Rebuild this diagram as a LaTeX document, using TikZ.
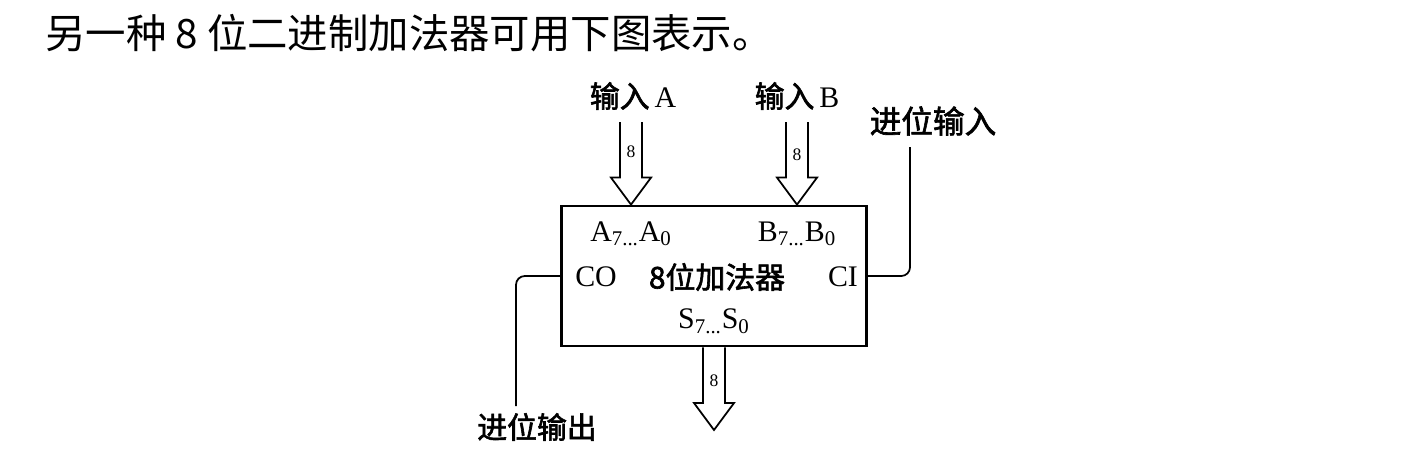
\documentclass[tikz,border=0pt]{standalone}
\usepackage{fontspec}
\setmainfont{Liberation Serif}
\newfontfamily\cjk{Noto Sans CJK SC}
\newfontfamily\cjkb[FakeBold=2]{Noto Sans CJK SC}
\usepackage{tikz}
\usetikzlibrary{positioning}
\usetikzlibrary{calc}
% hollow bus arrow from the top of its shaft down to its tip
\newcommand{\busarrow}[2]{%
  \draw[bus] ($(#1)+(-11,0)$) -- ($(#2)+(-11,-27)$) -- ($(#2)+(-20,-27)$) -- (#2)
    -- ($(#2)+(20,-27)$) -- ($(#2)+(11,-27)$) -- ($(#1)+(11,0)$);}

\begin{document}
\begin{tikzpicture}[x=0.02cm, y=-0.02cm]
    % Styles:
    \tikzset{wire/.style={line width=1pt, rounded corners=5pt}}
    \tikzset{bus/.style={line width=1pt, line join=miter}}
    \tikzset{adder/.style={draw, line width=1.6pt, minimum width=6.1cm, minimum height=2.8cm}}
    \tikzset{pin/.style={inner sep=1pt, font=\fontsize{17}{20}\selectfont}}
    \tikzset{width/.style={inner sep=0pt, font=\fontsize{10}{11}\selectfont}}
    \tikzset{lbl/.style={inner sep=1pt, font=\fontsize{17}{20}\selectfont}}

    \useasboundingbox (0,0) rectangle (1416,468);

    % Title:
    \node[anchor=west, inner sep=0pt] (title) at (45,33)
        {\cjk\fontsize{23}{26}\selectfont 另一种 8 位二进制加法器可用下图表示。};

    % Main node:
    \node[adder] (add) at (714,276) {};

    % Pins inside the adder:
    \node[pin] (pa)  at (631,234) {A\textsubscript{7...}A\textsubscript{0}};
    \node[pin] (pb)  at (797,234) {B\textsubscript{7...}B\textsubscript{0}};
    \node[pin] (pco) at (596,277) {CO};
    \node[pin] (pci) at (843,277) {CI};
    \node[pin] (ps)  at (714,321) {S\textsubscript{7...}S\textsubscript{0}};
    \node[pin] (name) at (717,277) {\cjkb\fontsize{17}{20}\selectfont 8位加法器};

    % Outer labels:
    \node[lbl] (ina)  at (633,96) {{\cjkb 输入}\,A};
    \node[lbl] (inb)  at (797,96) {{\cjkb 输入}\,B};
    \node[lbl] (cin)  at (933,121) {\cjkb\fontsize{18}{20}\selectfont 进位输入};
    \coordinate (cinend)  at (910,147);
    \coordinate (coutend) at (516,406);
    \node[lbl] (cout) [below = 0.1cm of coutend, xshift=0.42cm] {\cjkb 进位输出};

    % Buses:
    \coordinate (ta) at (631,122);
    \coordinate (tb) at (797,122);
    \coordinate (ha) at (add.north -| ta);
    \coordinate (hb) at (add.north -| tb);
    \coordinate (hs) at (714,430);
    \busarrow{ta}{ha}
    \busarrow{tb}{hb}
    \busarrow{add.south}{hs}
    \node[width] (wa) at (631,152) {8};
    \node[width] (wb) at (797,155) {8};
    \node[width] (ws) at (714,381) {8};

    % Carry lines:
    \draw[wire] (add.east) -- (cinend |- add.east) -- (cinend);
    \draw[wire] (add.west) -- (coutend |- add.west) -- (coutend);
\end{tikzpicture}
\end{document}
